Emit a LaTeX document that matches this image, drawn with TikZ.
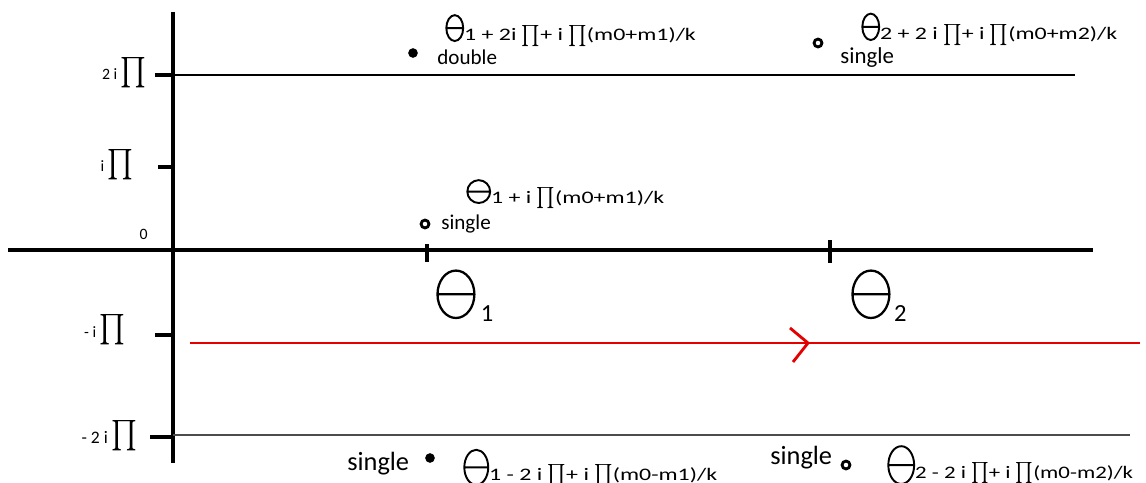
\documentclass[tikz,border=0pt]{standalone}
\usepackage{amsmath}
\usepackage{fontspec}
\setmainfont{Carlito}
% theta drawn as an ellipse with a bar: [line width]{width}{height} in pt
\newcommand{\thet}[3][1.1]{\tikz[baseline=0pt,x=1pt,y=1pt,line width=#1pt]{%
    \draw (0,#3/2) ellipse ({#2/2} and {#3/2}) (-#2/2,#3/2) -- (#2/2,#3/2);}}
\newcommand{\pq}[2][12]{{\fontsize{#1}{#1}\selectfont\scalebox{#2}[1]{$\prod$}}}
\newcommand{\wide}[2][1.36]{\scalebox{#1}[1]{\fontsize{10}{12}\selectfont #2}}
\begin{document}
\begin{tikzpicture}[x=0.02cm,y=-0.02cm,
    axis/.style={line width=2.3pt},
    lbl/.style={anchor=base west,inner sep=0pt,font=\fontsize{12}{14}\selectfont},
    ylbl/.style={anchor=base east,inner sep=0pt,font=\fontsize{9}{11}\selectfont},
    dot/.style={circle,fill,inner sep=0pt,minimum size=5.5pt},
    ring/.style={circle,draw,fill=white,line width=1.6pt,inner sep=0pt,minimum size=4.5pt},
    contour/.style={red!90!black,line width=1.1pt}]
    \useasboundingbox (0,0) rectangle (1146,483);
    % axes and the two horizontal lines
    \draw[axis] (173,12) -- (173,463);
    \draw[axis] (8,250) -- (1093,250);
    \draw[line width=1.4pt] (173,75) -- (1075,75);
    \draw[black!70,line width=0.6pt] (173,435) -- (1130,435);
    % ticks on the imaginary axis
    \foreach \x/\y in {155/75, 158/167, 155/335, 150/437}
      \draw[axis] (\x,\y) -- (173,\y);
    % ticks on the real axis
    \foreach \x/\a/\b in {427/244/262, 830/240/263}
      \draw[axis] (\x,\a) -- (\x,\b);
    \node[ylbl] (l2) at (147,80) {2 i \pq[19]{0.9}};
    \node[ylbl] (l1) at (134,172) {i \pq[19]{0.9}};
    \node[ylbl] (l0) at (148,239) {0};
    \node[ylbl] (lm1) at (126,337) {- i \pq[19]{0.9}};
    \node[ylbl,font=\fontsize{10}{12}\selectfont] (lm2) at (138,443) {- 2 i \pq[19]{0.9}};
    % theta_1, theta_2 under the real axis
    \node[anchor=base west,inner sep=0pt] (th1) at (436,318)
      {\thet[1.3]{21}{27}\hspace{3pt}{\fontsize{14}{14}\selectfont\raisebox{-2.2pt}{1}}};
    \node[anchor=base west,inner sep=0pt] (th2) at (851,318)
      {\thet[1.3]{21}{27}\hspace{2pt}{\fontsize{14}{14}\selectfont\raisebox{-2.2pt}{2}}};
    % contour
    \coordinate (c0) at (190,343);
    \coordinate (c1) at (1140,343);
    \draw[contour] (c0) -- (c1);
    \draw[contour,line width=1.6pt] (790,328) -- (808,343) -- (793,362);
    % poles
    \node[dot] (p1) at (413,53) {};
    \node[lbl] (t1) at (445,41) {\thet{9.6}{14.7}\wide{1 + 2i \pq{0.68}+ i \pq{0.68}(m0+m1)/k}};
    \node[lbl] (s1) at (437,65) {double};
    \node[ring] (p2) at (818,43) {};
    \node[lbl] (t2) at (861,40) {\thet{9.6}{15}\wide{2 + 2 i \pq{0.68}+ i \pq{0.68}(m0+m2)/k}};
    \node[lbl,font=\fontsize{13}{15}\selectfont] (s2) at (840,64) {single};
    \node[ring] (p3) at (425,224) {};
    \node[lbl] (t3) at (466,203) {\thet{13}{13}\wide{1 + i \pq{0.68}(m0+m1)/k}};
    \node[lbl] (s3) at (441,229) {single};
    \node[dot] (p4) at (430,458) {};
    \node[lbl,font=\fontsize{15}{17}\selectfont] (s4) at (347,470) {single};
    \node[lbl] (t4) at (463,480) {\raisebox{-2.8pt}{\thet{13.6}{20}}\wide{1 - 2 i \pq{0.68}+ i \pq{0.68}(m0-m1)/k}};
    \node[ring] (p5) at (846,465) {};
    \node[lbl,font=\fontsize{15}{17}\selectfont] (s5) at (770,464) {single};
    \node[lbl] (t5) at (887,478) {\raisebox{-3.4pt}{\thet{14.7}{21.5}}\wide[1.3]{2 - 2 i \pq{0.68}+ i \pq{0.68}(m0-m2)/k}};
\end{tikzpicture}
\end{document}
